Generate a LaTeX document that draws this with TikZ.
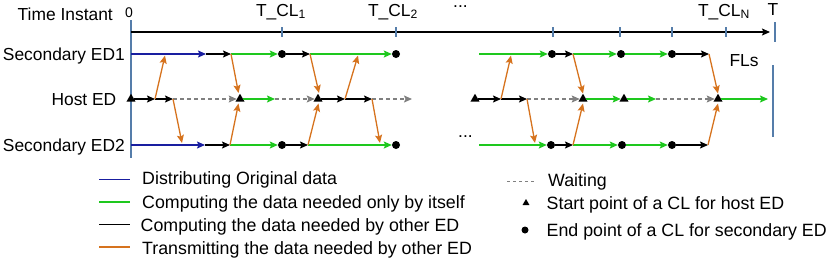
\documentclass[tikz,border=0pt]{standalone}
\usepackage{fontspec}
\setmainfont{Liberation Sans}
\usetikzlibrary{arrows.meta,shapes.geometric}
\definecolor{cblue}{RGB}{25,30,160}
\definecolor{cgreen}{RGB}{30,200,30}
\definecolor{corange}{RGB}{214,115,30}
\definecolor{csteel}{RGB}{85,125,170}
\definecolor{cgray}{RGB}{128,128,128}
\begin{document}
\begin{tikzpicture}[x=1pt,y=-1pt,
  font=\fontsize{17.4}{20}\selectfont,
  arr/.style={-{Stealth[length=8pt,width=7pt,inset=1.5pt]}},
  sDist/.style={arr, cblue, line width=1.3pt},
  sComp/.style={arr, cgreen, line width=1.3pt},
  sOth/.style={arr, black, line width=1.3pt},
  sTrans/.style={arr, corange, line width=1.3pt},
  sWait/.style={arr, cgray, line width=1.3pt, dash pattern=on 4pt off 3pt},
  dotnode/.style={circle, fill=black, inner sep=0pt, minimum size=8pt},
  trinode/.style={regular polygon, regular polygon sides=3, fill=black, inner sep=0pt, minimum size=10.5pt},
  lbl/.style={inner sep=0pt, anchor=base east},
  txt/.style={inner sep=0pt, anchor=base west},
  legtxt/.style={inner sep=0pt, anchor=base west, font=\fontsize{17.8}{20}\selectfont},
  ctr/.style={inner sep=0pt, anchor=base},
  tl/.style={csteel, line width=1.6pt},
  legline/.style={line width=1.6pt}
]
\useasboundingbox (0,0) rectangle (830,258);

% ---- labels
\node[lbl] (lT) at (113,20.5) {Time Instant};
\node[lbl] (l1) at (125,60) {Secondary ED1};
\node[lbl] (lH) at (116.5,105.5) {Host ED};
\node[lbl] (l2) at (125,151.5) {Secondary ED2};
\node[ctr, font=\fontsize{14}{16}\selectfont] (l0) at (129,17) {0};
\node[ctr] (tc1) at (281,16) {T\_CL\textsubscript{1}};
\node[ctr] (tc2) at (393,16) {T\_CL\textsubscript{2}};
\node[ctr] (tcn) at (724,16) {T\_CL\textsubscript{N}};
\node[ctr] (tT) at (773,15) {T};
\node[txt] (dd1) at (453,7) {...};
\node[txt] (dd2) at (458,137) {...};
\node[ctr] (fl) at (744,66.5) {FLs};

% ---- time axis
\draw[tl] (131,20) -- (131,158);
\coordinate (ax0) at (131,32);
\coordinate (ax1) at (770,32);
\draw[arr, black, line width=1.2pt] (ax0) -- (ax1);
\foreach \x in {282,396,553,620,672,726} \draw[tl] (\x,27) -- (\x,37);
\draw[tl] (775,22) -- (775,42);
\draw[tl] (773,65) -- (773,137);

% ---- Secondary ED1 (y=54)
\coordinate (a0) at (131,54);
\coordinate (a1) at (206,54);
\coordinate (a2) at (231,54);
\node[dotnode] (d1) at (282,54) {};
\coordinate (a3) at (310,54);
\node[dotnode] (d2) at (396,54) {};
\coordinate (b0) at (479,54);
\node[dotnode] (d3) at (552,54) {};
\coordinate (b1) at (573,54);
\node[dotnode] (d4) at (621,54) {};
\node[dotnode] (d5) at (672,54) {};
\coordinate (b2) at (709,54);

% ---- Host ED (y=99)
\node[trinode] (t0) at (131,99) {};
\coordinate (h1) at (155,99);
\coordinate (h2) at (173,99);
\node[trinode] (t1) at (240,99) {};
\coordinate (h3) at (275,99);
\node[trinode] (t2) at (318,99) {};
\coordinate (h4) at (345,99);
\coordinate (h5) at (372,99);
\coordinate (h6) at (412,99);
\node[trinode] (t3) at (475,99) {};
\coordinate (h7) at (501,99);
\coordinate (h8) at (527,99);
\node[trinode] (t4) at (583,99) {};
\node[trinode] (t5) at (624,99) {};
\coordinate (h9) at (656,99);
\node[trinode] (t6) at (718,99) {};
\coordinate (h10) at (768,99);

% ---- Secondary ED2 (y=145)
\coordinate (c0) at (131,145);
\coordinate (c1) at (205,145);
\coordinate (c2) at (230,145);
\node[dotnode] (e1) at (282,145) {};
\coordinate (c3) at (308,145);
\node[dotnode] (e2) at (396,145) {};
\coordinate (c4) at (479,145);
\node[dotnode] (e3) at (551,145) {};
\coordinate (c5) at (573,145);
\node[dotnode] (e4) at (622,145) {};
\node[dotnode] (e5) at (672,145) {};
\coordinate (c6) at (708,145);

% ED1 segments
\draw[sDist] (a0) -- (a1);
\draw[sOth] (a1) -- (a2);
\draw[sComp] (a2) -- (d1);
\draw[sOth] (d1) -- (a3);
\draw[sComp] (a3) -- (d2);
\draw[sComp] (b0) -- (d3);
\draw[sOth] (d3) -- (b1);
\draw[sComp] (b1) -- (d4);
\draw[sComp] (d4) -- (d5);
\draw[sOth] (d5) -- (b2);

% Host segments
\draw[sOth] (t0) -- (h1);
\draw[sOth] (h1) -- (h2);
\draw[sWait] (h2) -- (t1);
\draw[sComp] (t1) -- (h3);
\draw[sWait] (h3) -- (t2);
\draw[sOth] (t2) -- (h4);
\draw[sOth] (h4) -- (h5);
\draw[sWait] (h5) -- (h6);
\draw[sOth] (t3) -- (h7);
\draw[sOth] (h7) -- (h8);
\draw[sWait] (h8) -- (t4);
\draw[sComp] (t4) -- (t5);
\draw[sComp] (t5) -- (h9);
\draw[sWait] (h9) -- (t6);
\draw[sComp] (t6) -- (h10);

% ED2 segments
\draw[sDist] (c0) -- (c1);
\draw[sOth] (c1) -- (c2);
\draw[sComp] (c2) -- (e1);
\draw[sOth] (e1) -- (c3);
\draw[sComp] (c3) -- (e2);
\draw[sComp] (c4) -- (e3);
\draw[sOth] (e3) -- (c5);
\draw[sComp] (c5) -- (e4);
\draw[sComp] (e4) -- (e5);
\draw[sOth] (e5) -- (c6);

% ---- transmissions
\coordinate (o1) at (165,55.5);
\coordinate (o2) at (182,143);
\coordinate (o3) at (238.5,93);
\coordinate (o4) at (238.5,103.5);
\coordinate (o5) at (319,93);
\coordinate (o6) at (318.5,103.5);
\coordinate (o7) at (358,55.5);
\coordinate (o8) at (380,143);
\coordinate (o9) at (511,55.5);
\coordinate (o10) at (535,143);
\coordinate (o11) at (583,93.5);
\coordinate (o12) at (583,103.5);
\coordinate (o13) at (718,93.5);
\coordinate (o14) at (718,103.5);
\draw[sTrans] (h1) -- (o1);
\draw[sTrans] (h2) -- (o2);
\draw[sTrans] (a2) -- (o3);
\draw[sTrans] (c2) -- (o4);
\draw[sTrans] (a3) -- (o5);
\draw[sTrans] (c3) -- (o6);
\draw[sTrans] (h4) -- (o7);
\draw[sTrans] (h5) -- (o8);
\draw[sTrans] (h7) -- (o9);
\draw[sTrans] (h8) -- (o10);
\draw[sTrans] (b1) -- (o11);
\draw[sTrans] (c5) -- (o12);
\draw[sTrans] (b2) -- (o13);
\draw[sTrans] (c6) -- (o14);

% ---- legend
\coordinate (g1a) at (99,179.5); \coordinate (g1b) at (130,179.5);
\coordinate (g2a) at (99,202);   \coordinate (g2b) at (130,202);
\coordinate (g3a) at (99,224.5); \coordinate (g3b) at (130,224.5);
\coordinate (g4a) at (99,247);   \coordinate (g4b) at (130,247);
\draw[legline, cblue] (g1a) -- (g1b);
\draw[legline, cgreen] (g2a) -- (g2b);
\draw[legline, black] (g3a) -- (g3b);
\draw[legline, corange] (g4a) -- (g4b);
\node[legtxt] (x1) at (142,184.7) {Distributing Original data};
\node[legtxt] (x2) at (142,208) {Computing the data needed only by itself};
\node[legtxt] (x3) at (140.5,231.5) {Computing the data needed by other ED};
\node[legtxt] (x4) at (142,254) {Transmitting the data needed by other ED};

\coordinate (w1a) at (507,181.5); \coordinate (w1b) at (537,181.5);
\draw[cgray, line width=1.2pt, dash pattern=on 3pt off 3pt] (w1a) -- (w1b);
\node[trinode, minimum size=8pt] (ltri) at (526,203) {};
\node[dotnode, minimum size=7pt] (ldot) at (525,230) {};
\node[legtxt] (y1) at (548,186) {Waiting};
\node[legtxt] (y2) at (546.5,209.5) {Start point of a CL for host ED};
\node[legtxt] (y3) at (546.5,236) {End point of a CL for secondary ED};
\end{tikzpicture}
\end{document}
